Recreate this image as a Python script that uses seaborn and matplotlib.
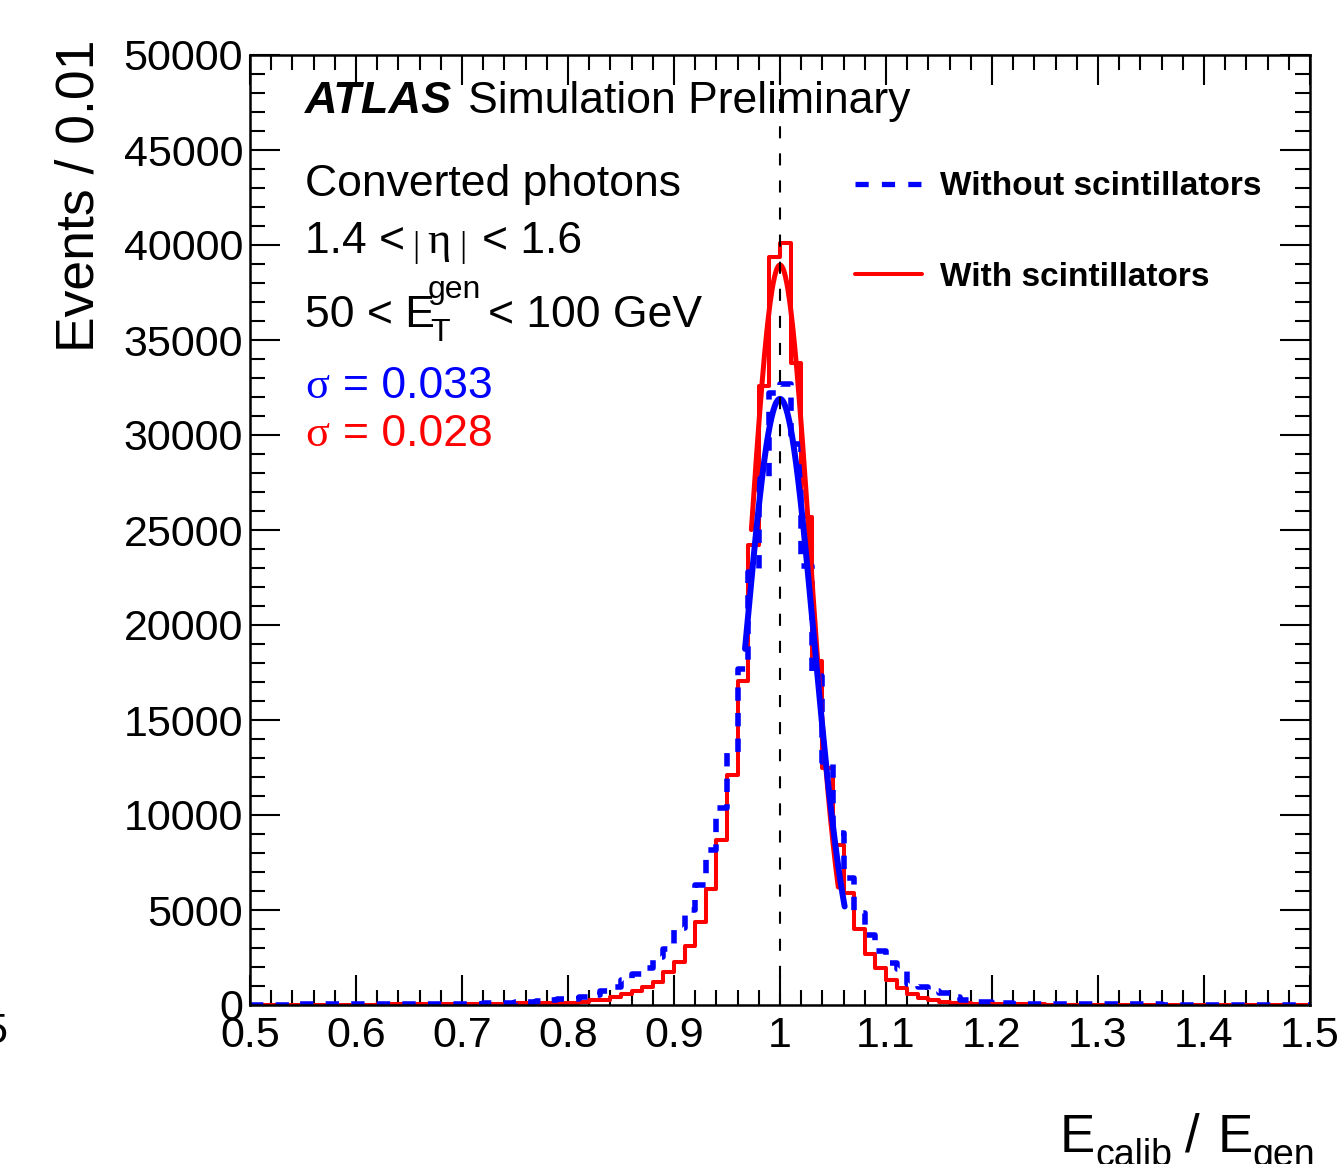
import numpy as np
import pandas as pd
import matplotlib
matplotlib.use("Agg")
import matplotlib.pyplot as plt
from matplotlib.lines import Line2D
from matplotlib.ticker import MultipleLocator
import seaborn as sns

# ---------------- data ----------------
bin_low = 0.5
bin_high = 1.5
bin_width = 0.01
n_bins = 100

counts_with = [
    10, 10, 12, 12, 14, 15, 16, 18, 20, 22,
    24, 26, 28, 30, 33, 36, 40, 44, 48, 52,
    56, 60, 65, 70, 75, 80, 88, 95, 102, 110,
    130, 150, 250, 280, 440, 580, 750, 960, 1230, 1750,
    2280, 3100, 4390, 6100, 8680, 12100, 17050, 24200, 32600, 39350,
    40100, 33800, 25700, 18100, 12450, 8420, 5900, 3980, 2680, 1930,
    1320, 880, 580, 350, 260, 175, 110, 90, 70, 55,
    45, 40, 35, 30, 28, 25, 22, 20, 18, 16,
    15, 14, 13, 12, 11, 10, 10, 9, 9, 8,
    8, 7, 7, 6, 6, 6, 5, 5, 5, 5,
]

counts_without = [
    20, 22, 24, 26, 28, 30, 32, 34, 36, 38,
    40, 43, 46, 50, 54, 58, 62, 66, 70, 75,
    60, 70, 85, 100, 120, 150, 175, 210, 250, 300,
    340, 420, 530, 750, 930, 1320, 1650, 1930, 2510, 2950,
    4050, 5000, 6320, 8160, 10370, 13300, 17700, 22800, 27700, 32200,
    32700, 29500, 23100, 17300, 12800, 9050, 6700, 4840, 3680, 2860,
    2230, 1900, 1100, 960, 750, 650, 400, 250, 180, 150,
    110, 90, 75, 65, 55, 50, 45, 42, 40, 38,
    36, 34, 32, 30, 28, 27, 26, 25, 24, 23,
    22, 21, 20, 20, 19, 18, 18, 17, 17, 16,
]

# Gaussian fit parameters: [without, with]
fit_amp = [31900, 38950]
fit_mean = [1.0, 1.0]
fit_sigma = [0.032, 0.0287]
fit_lo = [0.967, 0.973]
fit_hi = [1.061, 1.055]

x_tick_values = [0.5, 0.6, 0.7, 0.8, 0.9, 1.0, 1.1, 1.2, 1.3, 1.4, 1.5]
x_tick_labels = ["0.5", "0.6", "0.7", "0.8", "0.9", "1", "1.1", "1.2", "1.3", "1.4", "1.5"]
y_tick_values = [0, 5000, 10000, 15000, 20000, 25000, 30000, 35000, 40000, 45000, 50000]
y_tick_labels = ["0", "5000", "10000", "15000", "20000", "25000", "30000",
                 "35000", "40000", "45000", "50000"]
legend_labels = ["Without scintillators", "With scintillators"]
sigma_labels = ["= 0.033", "= 0.028"]
ref_line_x = 1.0

# ---------------- style ----------------
sns.set_style("ticks")
plt.rcParams['font.family'] = ['Liberation Sans', 'DejaVu Sans']
for key in ['text.color', 'axes.labelcolor', 'xtick.color', 'ytick.color', 'axes.edgecolor']:
    plt.rcParams[key] = 'black'

W, H = 1342, 1164
fig = plt.figure(figsize=(W / 100, H / 100), dpi=100)
fig.patch.set_facecolor('white')
ax = fig.add_axes([250 / W, 1 - 1005 / H, 1060 / W, 950 / H])
ax.set_facecolor('white')

centers = bin_low + bin_width * (np.arange(n_bins) + 0.5)
df = pd.DataFrame({"x": centers, "with": counts_with, "without": counts_without})

BLUE = (0, 0, 1)
RED = (1, 0, 0)
blue_dash = (0, (2.4, 2.2))

sns.histplot(data=df, x="x", weights="with", binwidth=bin_width, binrange=(bin_low, bin_high),
             element='step', fill=False, color=RED, linewidth=2.9, ax=ax)
sns.histplot(data=df, x="x", weights="without", binwidth=bin_width, binrange=(bin_low, bin_high),
             element='step', fill=False, color=BLUE, linewidth=4.0, linestyle=blue_dash, ax=ax)

for i, col, lw in [(1, RED, 3.6), (0, BLUE, 4.3)]:
    xf = np.linspace(fit_lo[i], fit_hi[i], 200)
    yf = fit_amp[i] * np.exp(-0.5 * ((xf - fit_mean[i]) / fit_sigma[i]) ** 2)
    sns.lineplot(x=xf, y=yf, color=col, linewidth=lw, ax=ax, sort=False)

ax.axvline(ref_line_x, color='black', linewidth=1.5, linestyle=(0, (5.8, 7.2)))

ax.set_xlim(0.5, 1.5)
ax.set_ylim(0, 50000)
ax.set_xticks(x_tick_values)
ax.set_xticklabels(x_tick_labels)
ax.set_yticks(y_tick_values)
ax.set_yticklabels(y_tick_labels)
ax.xaxis.set_minor_locator(MultipleLocator(0.02))
ax.yaxis.set_minor_locator(MultipleLocator(1000))
ax.tick_params(which='both', direction='in', top=True, right=True, width=1.5,
               color='black', labelcolor='black')
ax.tick_params(which='major', length=21.6)
ax.tick_params(which='minor', length=10.8)
ax.tick_params(axis='y', which='major', labelsize=31, pad=5)
ax.tick_params(axis='x', which='major', labelsize=31, pad=8)
ax.set_xlabel("")
ax.set_ylabel("")
for s in ax.spines.values():
    s.set_visible(True)
    s.set_linewidth(1.8)
    s.set_color('black')

# legend
handles = [Line2D([], [], color=BLUE, lw=3.8, linestyle=(0, (2.5, 2.5))),
           Line2D([], [], color=RED, lw=2.9)]
ax.legend(handles, legend_labels, loc='upper left', bbox_to_anchor=(0.5708, 0.8776),
          frameon=False, prop={'weight': 'bold', 'size': 24}, handlelength=2.0,
          handletextpad=0.55, labelspacing=1.78, borderpad=0, borderaxespad=0)

def fx(x):
    return x / W

def fy(y):
    return 1 - y / H

# axis titles
fig.text(fx(80), fy(40), "Events / 0.01", rotation=90, ha='center', va='top', fontsize=38.5)
fig.text(fx(1060), fy(1152), "E", ha='left', va='baseline', fontsize=38)
fig.text(fx(1095), fy(1166), "calib", ha='left', va='baseline', fontsize=27)
fig.text(fx(1185), fy(1152), "/", ha='left', va='baseline', fontsize=38)
fig.text(fx(1218), fy(1152), "E", ha='left', va='baseline', fontsize=38)
fig.text(fx(1252), fy(1166), "gen", ha='left', va='baseline', fontsize=27)
fig.text(fx(7), fy(1012), "5", ha='right', va='top', fontsize=31)

# labels
fig.text(fx(305), fy(113), "ATLAS", fontsize=32.5, fontweight='bold', fontstyle='italic', va='baseline')
fig.text(fx(468), fy(113), "Simulation Preliminary", fontsize=32, va='baseline')
fig.text(fx(305), fy(196), "Converted photons", fontsize=32, va='baseline')
fig.text(fx(305), fy(253), "1.4 <", fontsize=32, va='baseline')
fig.text(fx(412), fy(256), "|", fontsize=26, va='baseline', family='Liberation Serif')
fig.text(fx(427), fy(253), "η", fontsize=32, va='baseline', family='Liberation Serif')
fig.text(fx(459), fy(256), "|", fontsize=26, va='baseline', family='Liberation Serif')
fig.text(fx(482), fy(253), "< 1.6", fontsize=32, va='baseline')
fig.text(fx(305), fy(327), "50 < E", fontsize=32, va='baseline')
fig.text(fx(428), fy(298), "gen", fontsize=23, va='baseline')
fig.text(fx(430), fy(341), "T", fontsize=23, va='baseline')
fig.text(fx(488), fy(327), "< 100 GeV", fontsize=32, va='baseline')
for txt, col, yb in [(sigma_labels[0], BLUE, 398), (sigma_labels[1], RED, 446)]:
    fig.text(fx(305), fy(yb), "σ", fontsize=32, va='baseline', color=col, family='Liberation Serif')
    fig.text(fx(343), fy(yb), txt, fontsize=32, va='baseline', color=col)

fig.savefig("out.png", dpi=100, facecolor='white')
